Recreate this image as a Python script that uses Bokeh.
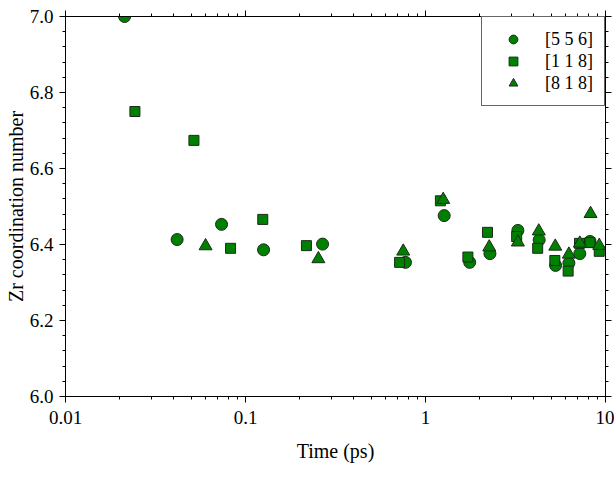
from bokeh.plotting import figure
from bokeh.models import (LogAxis, LinearAxis, FixedTicker, PrintfTickFormatter,
                          Legend, LegendItem, Range1d)
from bokeh.embed import file_html
from bokeh.resources import INLINE

# Zr coordination number vs. simulation time for three orientations
t_556 = [0.0213, 0.0417, 0.0736, 0.126, 0.268, 0.774, 1.27, 1.76, 2.28,
         3.26, 4.28, 5.28, 6.26, 7.2, 8.2]
cn_556 = [7.000, 6.413, 6.453, 6.386, 6.401, 6.353, 6.476, 6.353, 6.376,
          6.437, 6.412, 6.345, 6.351, 6.376, 6.408]

t_118 = [0.0243, 0.0517, 0.0826, 0.1247, 0.218, 0.718, 1.21, 1.72, 2.21,
         3.21, 4.2, 5.23, 6.2, 7.17, 8.2, 9.23]
cn_118 = [6.750, 6.674, 6.390, 6.466, 6.397, 6.353, 6.515, 6.367, 6.432,
          6.421, 6.390, 6.358, 6.330, 6.403, 6.405, 6.382]

t_818 = [0.060, 0.254, 0.752, 1.254, 2.26, 3.26, 4.26, 5.26, 6.26, 7.2,
         8.26, 9.23]
cn_818 = [6.396, 6.362, 6.382, 6.518, 6.393, 6.406, 6.435, 6.395, 6.374,
          6.403, 6.481, 6.397]

series_labels = ["[5 5 6]", "[1 1 8]", "[8 1 8]"]

x_ticks = [0.01, 0.1, 1, 10]
x_tick_labels = ["0.01", "0.1", "1", "10"]
y_ticks = [6.0, 6.2, 6.4, 6.6, 6.8, 7.0]

FONT = "Liberation Serif"
FILL = "#008000"
EDGE = "#1b2b1b"

# log-spaced minor ticks between the decades
x_minor = [k * d for d in x_ticks[:-1] for k in range(2, 10)]
# four minor ticks inside every 0.2 step on y
y_minor = [round(y_ticks[0] + 0.04 * i, 2) for i in range(int(round((y_ticks[-1] - y_ticks[0]) / 0.04)) + 1)]

p = figure(width=614, height=480, x_axis_type="log",
           x_range=Range1d(x_ticks[0], x_ticks[-1]),
           y_range=Range1d(y_ticks[0], y_ticks[-1]),
           output_backend="svg", toolbar_location=None,
           min_border_left=65, min_border_right=9,
           min_border_top=16, min_border_bottom=84)

p.xgrid.visible = False
p.ygrid.visible = False
p.outline_line_color = "black"
p.outline_line_width = 1
p.background_fill_color = "white"
p.border_fill_color = "white"

xt = FixedTicker(ticks=x_ticks, minor_ticks=x_minor)
yt = FixedTicker(ticks=y_ticks, minor_ticks=y_minor)


def style_axis(ax, show_labels):
    ax.axis_line_color = "black"
    ax.axis_line_width = 1
    ax.major_tick_line_color = "black"
    ax.minor_tick_line_color = "black"
    ax.major_tick_in = 0
    ax.major_tick_out = 6
    ax.minor_tick_in = 0
    ax.minor_tick_out = 3
    ax.major_label_text_font = FONT
    ax.major_label_text_color = "black"
    ax.axis_label_text_font = FONT
    ax.axis_label_text_font_style = "normal"
    ax.axis_label_text_color = "black"
    if not show_labels:
        ax.major_label_text_font_size = "1px"
        ax.major_label_text_alpha = 0
        ax.major_label_standoff = 0


xa = p.xaxis[0]
xa.ticker = xt
xa.major_label_overrides = dict(zip(x_ticks, x_tick_labels))
xa.axis_label = "Time (ps)"
style_axis(xa, True)
xa.major_label_text_font_size = "19px"
xa.major_label_standoff = 8
xa.axis_label_text_font_size = "20px"
xa.axis_label_standoff = 13

ya = p.yaxis[0]
ya.ticker = yt
ya.formatter = PrintfTickFormatter(format="%.1f")
ya.axis_label = "Zr coordination number"
style_axis(ya, True)
ya.major_label_text_font_size = "19px"
ya.major_label_standoff = 6
ya.axis_label_text_font_size = "20px"
ya.axis_label_standoff = 0

top = LogAxis(ticker=xt)
style_axis(top, False)
p.add_layout(top, "above")

right = LinearAxis(ticker=yt)
style_axis(right, False)
p.add_layout(right, "right")

r1 = p.scatter(t_556, cn_556, marker="circle", size=12,
               fill_color=FILL, line_color=EDGE, line_width=1)
r2 = p.scatter(t_118, cn_118, marker="square", size=10,
               fill_color=FILL, line_color=EDGE, line_width=1)
r3 = p.scatter(t_818, cn_818, marker="triangle", size=13,
               fill_color=FILL, line_color=EDGE, line_width=1)

legend = Legend(items=[LegendItem(label=series_labels[0], renderers=[r1]),
                       LegendItem(label=series_labels[1], renderers=[r2]),
                       LegendItem(label=series_labels[2], renderers=[r3])],
                location="top_right", margin=0, padding=11, spacing=0,
                glyph_width=40, glyph_height=22, label_standoff=12,
                label_height=20,
                label_text_font=FONT, label_text_font_size="18px",
                label_text_color="black",
                border_line_color="#666666", border_line_width=1,
                border_line_alpha=1,
                background_fill_color="white", background_fill_alpha=1)
p.add_layout(legend)

open("out.html", "w").write(file_html(p, INLINE))
